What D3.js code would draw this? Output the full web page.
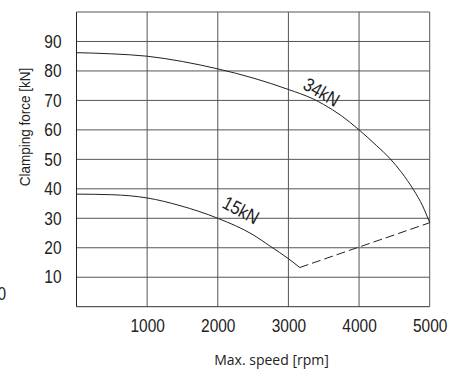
<!DOCTYPE html>
<html>
<head>
<meta charset="utf-8">
<script src="https://cdn.jsdelivr.net/npm/d3@7"></script>
<style>
  html, body { margin: 0; padding: 0; background: #fff; }
  svg { display: block; }
  .tick-label { font-family: "Liberation Sans", Arial, sans-serif; font-size: 18px; fill: #222; }
  .curve-label { font-family: "Liberation Sans", Arial, sans-serif; font-size: 19px; fill: #222; }
  .axis-title { font-family: "Open Sans", "Liberation Sans", sans-serif; font-size: 14px; fill: #222; }
</style>
</head>
<body>
<svg id="chart" width="465" height="375"></svg>
<script>
// Clamping force vs. maximum speed for two chuck sizes
const xTicks = [1000, 2000, 3000, 4000, 5000];
const yTicks = [10, 20, 30, 40, 50, 60, 70, 80, 90];

const speed34 = [0, 500, 1000, 1500, 2000, 2500, 3000, 3350, 3500, 3750, 4000, 4250, 4440, 4600, 4770, 4900, 5000];
const force34 = [86.2, 85.8, 85.0, 83.2, 80.7, 77.6, 73.7, 70.5, 68.6, 64.8, 60.0, 54.6, 50.2, 45.6, 39.7, 34.2, 28.5];

const speed15 = [0, 500, 1000, 1465, 2000, 2500, 2750, 3000, 3160];
const force15 = [38.2, 38.0, 36.9, 34.3, 30.0, 24.4, 20.4, 16.3, 13.3];

// Speed-limited segment joining the two curves
const speedLimit = [3160, 5000];
const forceLimit = [13.3, 28.5];

const curveLabels = ["34kN", "15kN"];

const svg = d3.select("#chart");
const plot = { left: 76.5, right: 429.7, top: 12, bottom: 306.7 };

const x = d3.scaleLinear().domain([0, 5000]).range([plot.left, plot.right]);
const y = d3.scaleLinear().domain([0, 100]).range([plot.bottom, plot.top]);

// Grid
const grid = svg.append("g");
grid.selectAll("line.v").data(xTicks).join("line")
  .attr("x1", d => x(d)).attr("x2", d => x(d))
  .attr("y1", plot.top).attr("y2", plot.bottom)
  .attr("stroke", "#555").attr("stroke-width", 1);
grid.selectAll("line.h").data(yTicks.concat([100])).join("line")
  .attr("x1", plot.left).attr("x2", plot.right)
  .attr("y1", d => y(d)).attr("y2", d => y(d))
  .attr("stroke", "#555").attr("stroke-width", 1);
// Frame: left and bottom edges
svg.append("line").attr("x1", plot.left).attr("x2", plot.left)
  .attr("y1", plot.top).attr("y2", plot.bottom).attr("stroke", "#222");
svg.append("line").attr("x1", plot.left).attr("x2", plot.right)
  .attr("y1", plot.bottom).attr("y2", plot.bottom).attr("stroke", "#333");

// Narrow digits: horizontally condensed tick labels
const condense = "scale(0.86,1)";

const xAxis = svg.append("g")
  .attr("transform", `translate(0,${plot.bottom})`)
  .call(d3.axisBottom(x).tickValues(xTicks).tickSize(0).tickPadding(13).tickFormat(d3.format("d")));
xAxis.select(".domain").remove();
xAxis.selectAll("text").attr("class", "tick-label")
  .attr("font-family", null).attr("font-size", null).attr("fill", null)
  .attr("transform", condense);

const yAxis = svg.append("g")
  .attr("transform", `translate(61.5,0)`)
  .call(d3.axisLeft(y).tickValues(yTicks).tickSize(0).tickPadding(0).tickFormat(d3.format("d")));
yAxis.select(".domain").remove();
yAxis.selectAll("text").attr("class", "tick-label")
  .attr("font-family", null).attr("font-size", null).attr("fill", null)
  .attr("transform", condense);

// Clipped label at the far left edge
svg.append("text").attr("class", "tick-label")
  .attr("transform", `translate(6,294) ${condense}`)
  .attr("dy", "0.35em").attr("text-anchor", "end").text("0");

// Curves
const line = d3.line().x(d => x(d[0])).y(d => y(d[1])).curve(d3.curveMonotoneX);
svg.append("path").datum(d3.zip(speed34, force34))
  .attr("d", line).attr("fill", "none").attr("stroke", "#222").attr("stroke-width", 1);
svg.append("path").datum(d3.zip(speed15, force15))
  .attr("d", line).attr("fill", "none").attr("stroke", "#222").attr("stroke-width", 1);
svg.append("path").datum(d3.zip(speedLimit, forceLimit))
  .attr("d", d3.line().x(d => x(d[0])).y(d => y(d[1])))
  .attr("fill", "none").attr("stroke", "#222").attr("stroke-width", 1)
  .attr("stroke-dasharray", "9,4");

// Curve labels
svg.append("text").attr("class", "curve-label")
  .attr("text-anchor", "middle").attr("dy", "0.35em")
  .attr("transform", `translate(321.5,92) rotate(30) scale(0.86,1)`)
  .text(curveLabels[0]);
svg.append("text").attr("class", "curve-label")
  .attr("text-anchor", "middle").attr("dy", "0.35em")
  .attr("transform", `translate(241,210) rotate(28) scale(0.86,1)`)
  .text(curveLabels[1]);

// Axis titles
svg.append("text").attr("class", "axis-title")
  .attr("text-anchor", "middle")
  .attr("x", 271.5).attr("y", 365)
  .text("Max. speed [rpm]");
svg.append("text").attr("class", "axis-title")
  .attr("text-anchor", "middle")
  .attr("transform", "translate(30,127) rotate(-90) scale(0.9,1)")
  .style("font-family", "'Liberation Sans', Arial, sans-serif")
  .style("font-size", "15px")
  .text("Clamping force [kN]");
</script>
</body>
</html>
